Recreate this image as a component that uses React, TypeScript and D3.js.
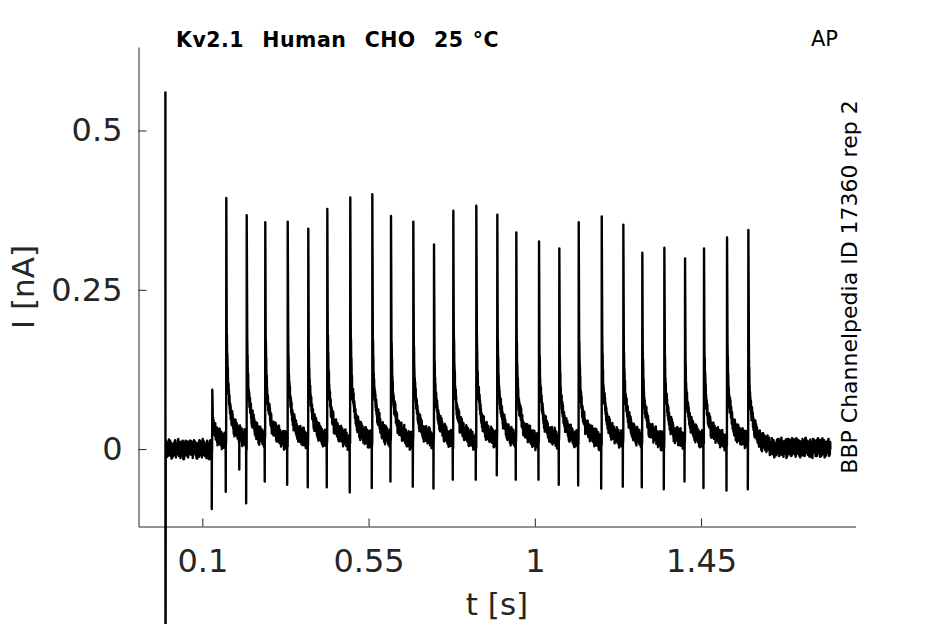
import React, { useEffect, useRef } from 'react';
import * as d3 from 'd3';

// Recording window and axis limits (s, nA)
const xLimits = [-0.0728, 1.868];
const yLimits = [-0.1215, 0.631];
const xTickValues = [0.1, 0.55, 1, 1.45];
const xTickLabels = ['0.1', '0.55', '1', '1.45'];
const yTickValues = [0, 0.25, 0.5];
const yTickLabels = ['0', '0.25', '0.5'];

// Stimulus artefact at t = 0 (top / bottom of the vertical stroke)
const artifactValues = [0.561, -0.45];

// First small response at the start of the AP train
const onsetTime = 0.127;
const onsetPeak = 0.093;
const onsetTrough = -0.094;

// AP-evoked currents: times, peak and capacitive trough values
const spikeTimes = [
  0.1649, 0.2201, 0.2704, 0.3311, 0.3868, 0.4383, 0.5005, 0.5601, 0.6107,
  0.6711, 0.7271, 0.7794, 0.8416, 0.8985, 0.9499, 1.0114, 1.0663, 1.1188,
  1.1811, 1.2396, 1.291, 1.3506, 1.4066, 1.458, 1.5203, 1.578,
];
const spikePeaks = [
  0.394, 0.367, 0.356, 0.357, 0.346, 0.377, 0.395, 0.4, 0.366, 0.357, 0.321,
  0.374, 0.382, 0.368, 0.34, 0.326, 0.315, 0.356, 0.365, 0.352, 0.308, 0.316,
  0.299, 0.315, 0.332, 0.344,
];
const spikeTroughs = [
  -0.067, -0.085, -0.051, -0.056, -0.06, -0.06, -0.068, -0.061, -0.051,
  -0.059, -0.062, -0.048, -0.048, -0.041, -0.048, -0.048, -0.056, -0.057,
  -0.062, -0.059, -0.06, -0.063, -0.051, -0.061, -0.065, -0.063,
];

// Isolated small dips
const dipTimes = [0.2];
const dipValues = [-0.032];

// Decay after each peak (ms after peak, nA above baseline)
const decayOffsetsMs = [1, 3, 5, 8, 12, 17, 24, 33, 45, 60];
const decayValues = [0.17, 0.11, 0.08, 0.06, 0.044, 0.031, 0.021, 0.013, 0.007, 0.002];

// Baseline levels: before, during and after the train
const baselineLevels = [0.0, 0.01, 0.002];

const noisePattern = [
  0.007, -0.01, 0.011, -0.004, 0.003, -0.011, 0.008, -0.002, 0.01, -0.009,
  0.001, 0.011, -0.007, 0.004, -0.011, 0.007, -0.001, 0.011, -0.008, 0.003,
  -0.005, 0.01, -0.011, 0.006, 0.0, -0.007, 0.011, -0.004, 0.008, -0.01,
  0.005, -0.011, 0.009,
];
// Slow baseline wander (nA), one value per 4 ms
const wanderPattern = [
  0.002, -0.003, 0.004, 0.001, -0.004, -0.001, 0.003, -0.002, 0.005, 0.0,
  -0.003, 0.002, -0.005, 0.003, 0.001, -0.002, 0.004,
];
const wanderStep = 0.004;

const traceEnd = 1.8;
const sampleStep = 0.0005;

interface Pt {
  t: number;
  v: number;
}

const App: React.FC = () => {
  const svgRef = useRef<SVGSVGElement>(null);

  useEffect(() => {
    if (!svgRef.current) return;
    const svg = d3.select(svgRef.current);
    svg.selectAll('*').remove();

    const x = d3.scaleLinear().domain(xLimits).range([138.5, 855.5]);
    const y = d3.scaleLinear().domain(yLimits).range([526.5, 47]);
    const decay = d3.scaleLinear().domain(decayOffsetsMs).range(decayValues).clamp(true);

    const events = [
      { t: onsetTime, peak: onsetPeak, trough: onsetTrough },
      ...spikeTimes.map((t, i) => ({ t, peak: spikePeaks[i], trough: spikeTroughs[i] })),
    ];
    const lastSpike = spikeTimes[spikeTimes.length - 1];

    const baseAt = (t: number) =>
      t < onsetTime ? baselineLevels[0] : t < lastSpike ? baselineLevels[1] : baselineLevels[2];

    // Build the trace
    const pts: Pt[] = [
      { t: 0, v: artifactValues[0] },
      { t: 0.0003, v: artifactValues[1] },
    ];
    let idx = 0;
    for (let k = 2; k * sampleStep <= traceEnd; k++) {
      const t = k * sampleStep;
      let prev = null as null | { t: number; peak: number };
      for (const ev of events) {
        if (ev.t <= t) prev = ev;
      }
      let v = baseAt(t);
      if (prev) {
        const off = (t - prev.t) * 1000;
        if (off < 1) continue;
        if (off <= 60) v += decay(off) * (prev.peak / 0.36);
      }
      v += noisePattern[idx % noisePattern.length];
      v += wanderPattern[Math.floor(t / wanderStep) % wanderPattern.length];
      idx++;
      pts.push({ t, v });
    }
    events.forEach(ev => {
      pts.push({ t: ev.t - 0.0015, v: ev.trough });
      pts.push({ t: ev.t, v: ev.peak });
    });
    dipTimes.forEach((t, i) => pts.push({ t, v: dipValues[i] }));
    pts.sort((a, b) => a.t - b.t);

    const textColor = '#262626';

    // Axes
    const yAxis = svg
      .append('g')
      .attr('transform', 'translate(138.5,0)')
      .call(
        d3
          .axisLeft(y)
          .tickValues(yTickValues)
          .tickFormat((d, i) => yTickLabels[i])
          .tickSizeInner(-8)
          .tickSizeOuter(0)
          .tickPadding(16)
      );
    const xAxis = svg
      .append('g')
      .attr('transform', 'translate(0,526.5)')
      .call(
        d3
          .axisBottom(x)
          .tickValues(xTickValues)
          .tickFormat((d, i) => xTickLabels[i])
          .tickSizeInner(-8)
          .tickSizeOuter(0)
          .tickPadding(23)
      );
    [xAxis, yAxis].forEach(g => {
      g.selectAll('path, line').attr('stroke', textColor).attr('stroke-width', 1);
      g.selectAll('text')
        .attr('fill', textColor)
        .style('font-size', '32px')
        .style('font-family', 'DejaVu Sans');
    });

    // Trace
    const line = d3
      .line<Pt>()
      .x(d => x(d.t))
      .y(d => y(d.v));
    svg
      .append('path')
      .datum(pts)
      .attr('fill', 'none')
      .attr('stroke', '#000')
      .attr('stroke-width', 2.4)
      .attr('stroke-linejoin', 'round')
      .attr('d', line);

    // Labels
    svg
      .append('text')
      .attr('x', 497)
      .attr('y', 615)
      .attr('text-anchor', 'middle')
      .attr('fill', textColor)
      .style('font-size', '31px')
      .text('t [s]');
    svg
      .append('text')
      .attr('transform', 'translate(34,287) rotate(-90)')
      .attr('text-anchor', 'middle')
      .attr('fill', textColor)
      .style('font-size', '31px')
      .text('I [nA]');
    svg
      .append('text')
      .attr('x', 176)
      .attr('y', 47)
      .attr('fill', '#000')
      .style('font-size', '20.5px')
      .style('font-weight', 'bold')
      .style('letter-spacing', '0.5px')
      .style('word-spacing', '1.5px')
      .style('white-space', 'pre')
      .text('Kv2.1  Human  CHO  25 °C');
    svg
      .append('text')
      .attr('x', 811)
      .attr('y', 46)
      .attr('fill', '#000')
      .style('font-size', '21px')
      .text('AP');
    svg
      .append('text')
      .attr('transform', 'translate(857,287) rotate(-90)')
      .attr('text-anchor', 'middle')
      .attr('fill', '#000')
      .style('font-size', '22px')
      .text('BBP Channelpedia ID 17360 rep 2');
  }, []);

  return (
    <svg
      ref={svgRef}
      width={945}
      height={624}
      style={{
        position: 'absolute',
        left: 0,
        top: 0,
        background: '#fff',
        fontFamily: 'DejaVu Sans',
      }}
    />
  );
};

export default App;
